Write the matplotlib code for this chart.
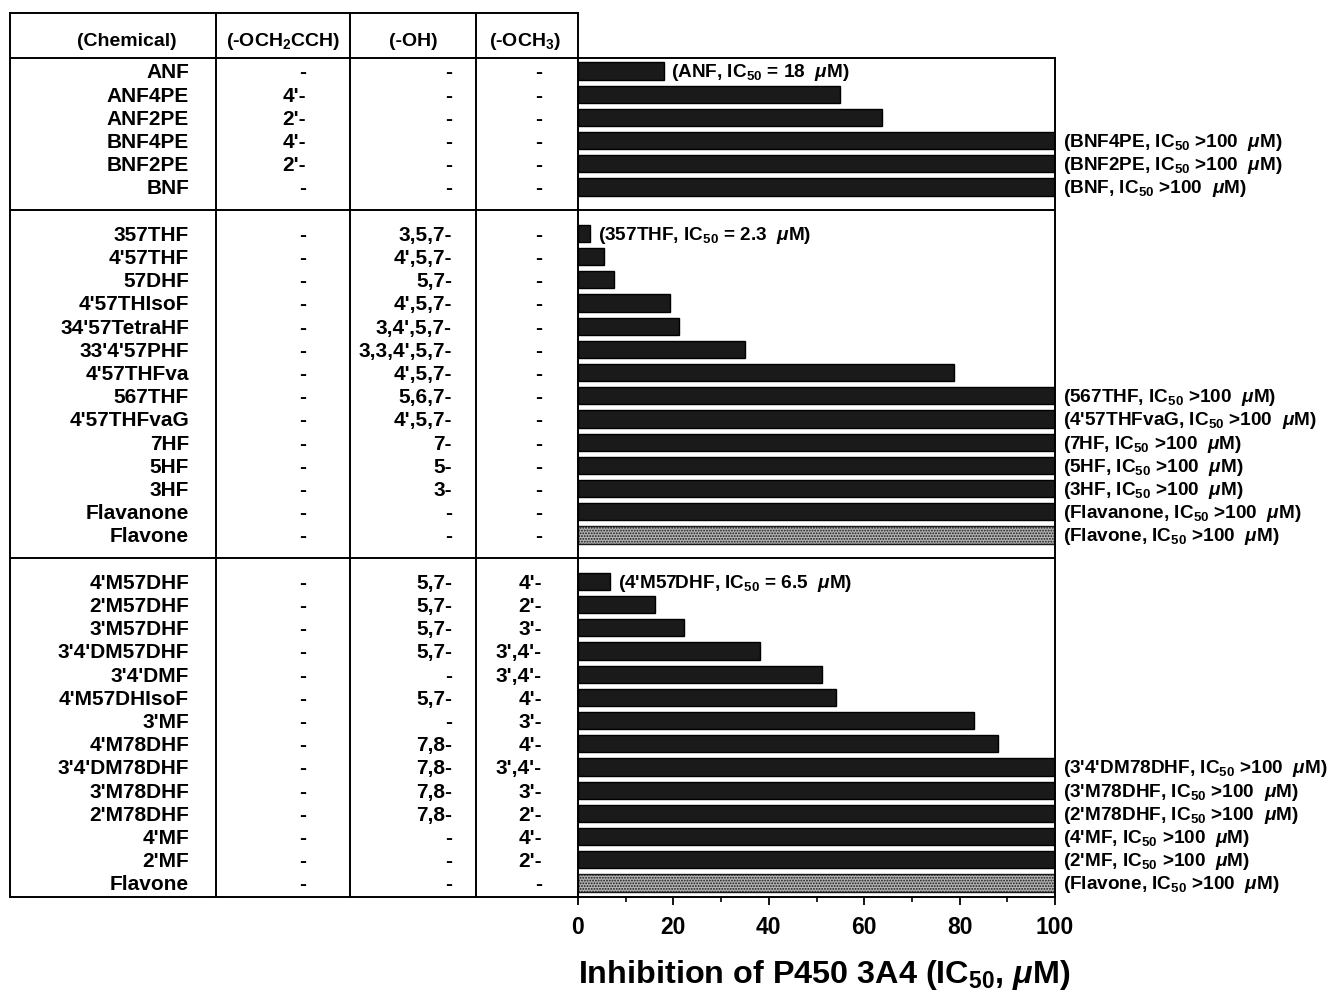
import matplotlib
matplotlib.use('Agg')
import matplotlib.pyplot as plt

plt.rcParams['font.family'] = ['Liberation Sans', 'DejaVu Sans']
plt.rcParams['font.weight'] = 'bold'
plt.rcParams['mathtext.fontset'] = 'custom'
plt.rcParams['mathtext.rm'] = 'Liberation Sans:bold'
plt.rcParams['mathtext.it'] = 'Liberation Sans:bold:italic'
plt.rcParams['mathtext.bf'] = 'Liberation Sans:bold'
plt.rcParams['hatch.linewidth'] = 0.9

# ---- data ----
headers = ['(Chemical)', '(-OCH$_2$CCH)', '(-OH)', '(-OCH$_3$)']

names_1 = ['ANF', 'ANF4PE', 'ANF2PE', 'BNF4PE', 'BNF2PE', 'BNF']
propargyl_1 = ['-', "4'-", "2'-", "4'-", "2'-", '-']
hydroxy_1 = ['-', '-', '-', '-', '-', '-']
methoxy_1 = ['-', '-', '-', '-', '-', '-']
ic50_1 = [18, 55, 63.7, 100, 100, 100]
note_1 = ['= 18', '', '', '>100', '>100', '>100']

names_2 = ['357THF', "4'57THF", '57DHF', "4'57THIsoF", "34'57TetraHF",
           "33'4'57PHF", "4'57THFva", '567THF', "4'57THFvaG", '7HF', '5HF',
           '3HF', 'Flavanone', 'Flavone']
propargyl_2 = ['-'] * 14
hydroxy_2 = ['3,5,7-', "4',5,7-", '5,7-', "4',5,7-", "3,4',5,7-",
             "3,3,4',5,7-", "4',5,7-", '5,6,7-', "4',5,7-", '7-', '5-', '3-',
             '-', '-']
methoxy_2 = ['-'] * 14
ic50_2 = [2.5, 5.4, 7.5, 19.3, 21.2, 35.1, 78.8, 100, 100, 100, 100, 100,
          100, 100]
note_2 = ['= 2.3', '', '', '', '', '', '', '>100', '>100', '>100', '>100',
          '>100', '>100', '>100']

names_3 = ["4'M57DHF", "2'M57DHF", "3'M57DHF", "3'4'DM57DHF", "3'4'DMF",
           "4'M57DHIsoF", "3'MF", "4'M78DHF", "3'4'DM78DHF", "3'M78DHF",
           "2'M78DHF", "4'MF", "2'MF", 'Flavone']
propargyl_3 = ['-'] * 14
hydroxy_3 = ['5,7-', '5,7-', '5,7-', '5,7-', '-', '5,7-', '-', '7,8-',
             '7,8-', '7,8-', '7,8-', '-', '-', '-']
methoxy_3 = ["4'-", "2'-", "3'-", "3',4'-", "3',4'-", "4'-", "3'-", "4'-",
             "3',4'-", "3'-", "2'-", "4'-", "2'-", '-']
ic50_3 = [6.7, 16.1, 22.2, 38.2, 51.2, 54.1, 83.0, 88.0, 100, 100, 100,
          100, 100, 100]
note_3 = ['= 6.5', '', '', '', '', '', '', '', '>100', '>100', '>100',
          '>100', '>100', '>100']

groups = [
    (names_1, propargyl_1, hydroxy_1, methoxy_1, ic50_1, note_1),
    (names_2, propargyl_2, hydroxy_2, methoxy_2, ic50_2, note_2),
    (names_3, propargyl_3, hydroxy_3, methoxy_3, ic50_3, note_3),
]

# ---- row slots: one empty slot between groups ----
rows = []
separators = []
slot = 0
for g in groups:
    for i in range(len(g[0])):
        rows.append((slot, g[0][i], g[1][i], g[2][i], g[3][i], g[4][i], g[5][i]))
        slot += 1
    separators.append(slot)
    slot += 1
separators = separators[:-1]

W, H = 1339, 994
fig = plt.figure(figsize=(W / 100, H / 100), dpi=100)

# pixel layout
tab_l, tab_r, tab_t, bar_t, bot = 10, 578, 13, 58, 897
bar_r = 1055
pitch = 23.2
y_first = 71

def slot_of(py):
    return (py - y_first) / pitch

ax_t = fig.add_axes([tab_l / W, 1 - bot / H, (tab_r - tab_l) / W, (bot - tab_t) / H])
ax_t.set_xlim(tab_l, tab_r)
ax_t.set_ylim(slot_of(bot), slot_of(tab_t))
ax_t.axis('off')

ax = fig.add_axes([tab_r / W, 1 - bot / H, (bar_r - tab_r) / W, (bot - bar_t) / H])
ax.set_ylim(slot_of(bot), slot_of(bar_t))
ax.set_xlim(0, 100)

lw = 1.4
# table grid
for x in [tab_l, 216, 350, 476]:
    ax_t.plot([x, x], [slot_of(tab_t), slot_of(bot)], color='black', lw=lw, clip_on=False)
ax_t.plot([tab_l, tab_r], [slot_of(tab_t), slot_of(tab_t)], color='black', lw=lw, clip_on=False)
ax_t.plot([tab_l, tab_r], [slot_of(bar_t), slot_of(bar_t)], color='black', lw=lw, clip_on=False)
ax_t.plot([tab_l, tab_r], [slot_of(bot), slot_of(bot)], color='black', lw=lw, clip_on=False)
ax_t.plot([tab_r, tab_r], [slot_of(tab_t), slot_of(bar_t)], color='black', lw=lw, clip_on=False)
for s in separators:
    ax_t.plot([tab_l, tab_r], [s, s], color='black', lw=lw, clip_on=False)
    ax.axhline(s, color='black', lw=lw)

# headers
hdr_y = slot_of(42)
for x, txt in zip([127, 283, 413, 525], headers):
    ax_t.text(x, hdr_y, txt, ha='center', va='center', fontsize=14, fontweight='bold')

# table cells
fs = 15
dy = 0.08
for y, name, prop, oh, ome, val, note in rows:
    ax_t.text(189, y + dy, name, ha='right', va='center', fontsize=fs)
    ax_t.text(306, y + dy, prop, ha='right', va='center', fontsize=fs)
    ax_t.text(452, y + dy, oh, ha='right', va='center', fontsize=fs)
    ax_t.text(542, y + dy, ome, ha='right', va='center', fontsize=fs)

# bars
for y, name, prop, oh, ome, val, note in rows:
    if name == 'Flavone':
        ax.barh(y, val, height=0.74, color='#b4b4b4', edgecolor='#1a1a1a',
                hatch='......', lw=1.0)
    else:
        ax.barh(y, val, height=0.74, color='#1a1a1a', edgecolor='black', lw=1.0)
    if note:
        ax.annotate('(%s, IC$_{\\mathrm{50}}$ %s  $\\mu$M)' % (name, note),
                    xy=(val, y + dy), xytext=(5.5, 0), textcoords='offset points',
                    ha='left', va='center', fontsize=13.7, annotation_clip=False)

for sp in ax.spines.values():
    sp.set_linewidth(lw)
ax.set_yticks([])
ax.set_xticks([0, 20, 40, 60, 80, 100])
ax.set_xticks(range(10, 100, 20), minor=True)
ax.tick_params(axis='x', which='major', direction='out', length=6, width=1.3,
               labelsize=16.5, pad=8)
ax.tick_params(axis='x', which='minor', direction='out', length=3.5, width=1.2)
for lab in ax.get_xticklabels():
    lab.set_fontweight('bold')
ax.set_xlabel('Inhibition of P450 3A4 (IC$_{\\mathrm{50}}$, $\\mu$M)',
              fontsize=23.3, fontweight='bold')
ax.xaxis.label.set_va('center')
ax.xaxis.set_label_coords(0.515, -(975 - bot) / (bot - bar_t))

fig.savefig('out.png', dpi=100)
